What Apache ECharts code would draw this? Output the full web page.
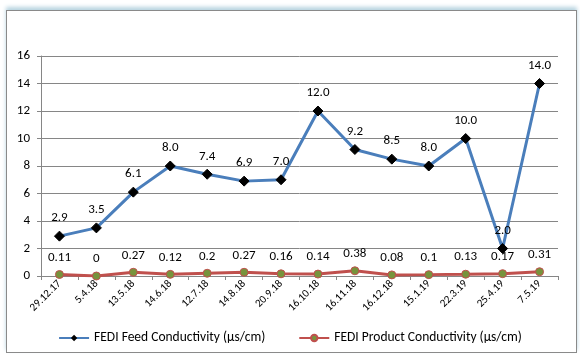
<!DOCTYPE html>
<html><head><meta charset="utf-8">
<script src="https://cdn.jsdelivr.net/npm/echarts@6/dist/echarts.min.js"></script>
<style>
html,body{margin:0;padding:0;background:#fff;}
#frame{position:absolute;left:6px;top:10px;width:569px;height:341px;border:1px solid #8a8a8a;box-shadow:0 -3px 4px #b8d4e0;}
#c{position:absolute;left:0;top:0;width:580px;height:355px;}
</style></head>
<body>
<div id="frame"></div>
<div id="c"></div>
<script>
const categories = ["29.12.17","5.4.18","13.5.18","14.6.18","12.7.18","14.8.18","20.9.18","16.10.18","16.11.18","16.12.18","15.1.19","22.3.19","25.4.19","7.5.19"];
const feedValues = [2.9,3.5,6.1,8.0,7.4,6.9,7.0,12.0,9.2,8.5,8.0,10.0,2.0,14.0];
const productValues = [0.11,0,0.27,0.12,0.2,0.27,0.16,0.14,0.38,0.08,0.1,0.13,0.17,0.31];
const yTicks = [0,2,4,6,8,10,12,14,16];

const font = "Carlito, 'Liberation Sans', 'Noto Sans', sans-serif";
const chart = echarts.init(document.getElementById('c'), null, {renderer:'canvas'});
chart.setOption({
  animation:false,
  textStyle:{fontFamily:font},
  grid:{left:41,right:22,top:56,bottom:79},
  legend:{
    bottom:5, left:'center', itemGap:33, itemWidth:30, itemHeight:8,
    textStyle:{fontSize:13.5,color:'#000',fontFamily:font},
    data:['FEDI Feed Conductivity (µs/cm)','FEDI Product Conductivity (µs/cm)']
  },
  xAxis:{
    type:'category', data:categories, boundaryGap:true,
    axisLine:{lineStyle:{color:'#868686'}},
    axisTick:{show:true,lineStyle:{color:'#868686'},length:4},
    axisLabel:{rotate:45,fontSize:11,color:'#000',margin:6,interval:0,fontFamily:font}
  },
  yAxis:{
    type:'value', min:yTicks[0], max:yTicks[yTicks.length-1], interval:2,
    axisLine:{show:true,lineStyle:{color:'#868686'}},
    axisTick:{show:true,lineStyle:{color:'#868686'},length:4},
    splitLine:{lineStyle:{color:'#868686'}},
    axisLabel:{fontSize:13,color:'#000',margin:11,fontFamily:font}
  },
  series:[
    {name:'FEDI Feed Conductivity (µs/cm)',type:'line',data:feedValues,
     symbol:'diamond',symbolSize:10,
     lineStyle:{color:'#4A7EBB',width:3},
     itemStyle:{color:'#000',borderColor:'#000'},
     label:{show:true,position:'top',distance:6,fontSize:13,color:'#000',fontFamily:font,
       formatter:p=>p.value.toFixed(1)}},
    {name:'FEDI Product Conductivity (µs/cm)',type:'line',data:productValues,
     symbol:'circle',symbolSize:8,
     lineStyle:{color:'#C0504D',width:3},
     itemStyle:{color:'#77933C',borderColor:'#C0504D',borderWidth:1},
     label:{show:true,position:'top',distance:6,fontSize:13,color:'#000',fontFamily:font,
       formatter:p=>String(p.value)}}
  ]
});
</script>
</body></html>
